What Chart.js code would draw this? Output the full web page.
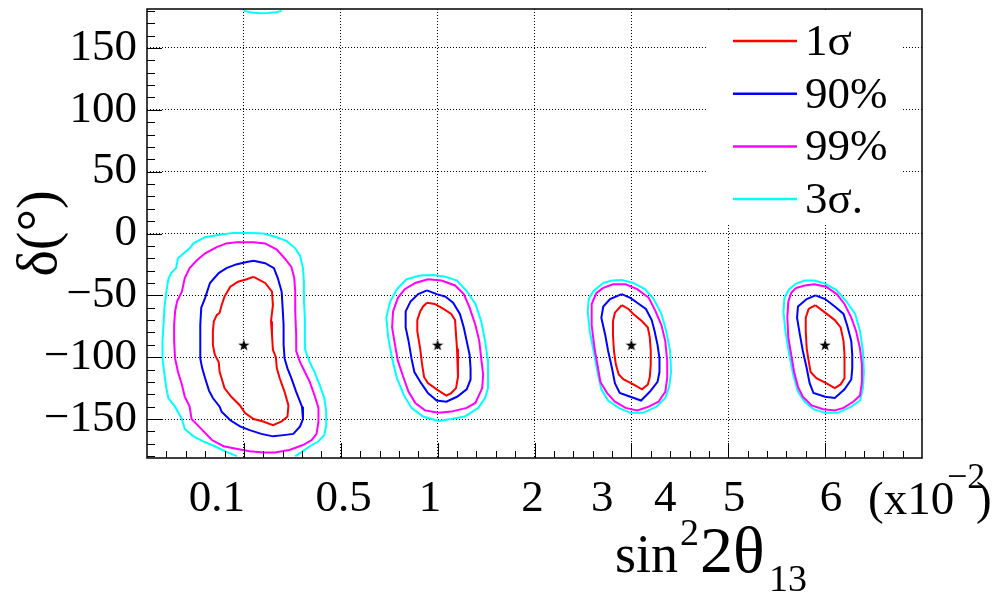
<!DOCTYPE html>
<html>
<head>
<meta charset="utf-8">
<script src="https://cdn.jsdelivr.net/npm/chart.js@4.4.0/dist/chart.umd.min.js"></script>
<style>
  html, body { margin: 0; padding: 0; background: #fff; }
</style>
</head>
<body>
<canvas id="graph" width="1007" height="594"></canvas>
<script>
// x axis runs 0..8, one unit per grid cell; labels are placed under it by hand in the original
var xTickLabels = ['0.1', '0.5', '1', '2', '3', '4', '5', '6'];
var xTickPos = [0.72, 2.03, 2.92, 3.98, 4.70, 5.35, 6.06, 7.06];
var yTicks = [-150, -100, -50, 0, 50, 100, 150];

var levelLabels = ['1σ', '90%', '99%', '3σ.'];
var levelColors = ['#ff0000', '#0000ff', '#ff00ff', '#00ffff'];

// best fit points
var bestX = [1, 3, 5, 7];
var bestY = [-90, -90, -90, -90];

// contours [x, delta] -- first panel
var sig1A = [[1.10,-35],[1.22,-40],[1.29,-47],[1.30,-58],[1.28,-71],[1.29,-82],[1.30,-94],[1.33,-100],[1.34,-109],[1.37,-117],[1.42,-128],[1.46,-139],[1.45,-148],[1.39,-152],[1.30,-155],[1.20,-152],[1.10,-150],[1.01,-145],[0.96,-139],[0.87,-132],[0.80,-125],[0.77,-117],[0.75,-112],[0.74,-104],[0.70,-98],[0.68,-90],[0.68,-79],[0.69,-71],[0.72,-66],[0.75,-64],[0.77,-58],[0.80,-51],[0.86,-43],[0.94,-39],[1.03,-37]];
var c90A = [[1.10,-22],[1.22,-24],[1.31,-28],[1.35,-36],[1.39,-47],[1.40,-60],[1.41,-74],[1.41,-90],[1.42,-101],[1.45,-109],[1.49,-117],[1.54,-128],[1.60,-140],[1.61,-150],[1.58,-156],[1.51,-162],[1.41,-163],[1.30,-164],[1.18,-162],[1.06,-159],[0.96,-156],[0.86,-151],[0.77,-144],[0.75,-140],[0.68,-133],[0.64,-127],[0.60,-117],[0.57,-109],[0.55,-101],[0.55,-90],[0.55,-74],[0.56,-60],[0.60,-52],[0.65,-40],[0.74,-32],[0.82,-28],[0.92,-25],[1.03,-23]];
var c99A = [[0.92,-7],[1.10,-7],[1.22,-8],[1.34,-13],[1.42,-20],[1.49,-27],[1.52,-36],[1.53,-47],[1.53,-63],[1.54,-82],[1.54,-95],[1.58,-104],[1.63,-112],[1.68,-120],[1.73,-131],[1.77,-141],[1.77,-152],[1.75,-162],[1.70,-167],[1.61,-171],[1.47,-175],[1.32,-177],[1.20,-177],[1.06,-176],[0.92,-174],[0.79,-172],[0.67,-167],[0.56,-158],[0.46,-150],[0.44,-140],[0.39,-132],[0.36,-122],[0.32,-112],[0.29,-101],[0.28,-87],[0.28,-74],[0.29,-63],[0.31,-55],[0.36,-47],[0.39,-36],[0.44,-28],[0.51,-22],[0.60,-16],[0.72,-11],[0.82,-8]];
var sig3A = [[0.93,-180],[0.82,-176.5],[0.70,-172],[0.58,-168],[0.48,-164],[0.39,-158],[0.36,-150],[0.29,-140],[0.22,-133],[0.20,-125],[0.18,-114],[0.16,-101],[0.16,-87],[0.17,-74],[0.18,-60],[0.20,-47],[0.22,-37],[0.25,-32],[0.30,-28],[0.32,-20],[0.38,-16],[0.44,-12],[0.48,-8],[0.60,-3],[0.75,-1],[0.89,0.5],[1.06,0.5],[1.20,0],[1.34,-3],[1.44,-6],[1.53,-12],[1.58,-18],[1.61,-28],[1.62,-39],[1.62,-55],[1.63,-68],[1.63,-82],[1.63,-93],[1.65,-98],[1.68,-104],[1.73,-112],[1.78,-122],[1.83,-133],[1.85,-144],[1.85,-155],[1.83,-163],[1.77,-168],[1.68,-172],[1.60,-176.5],[1.53,-180]];
var sig3Atop = [[1.00,180],[1.08,178.6],[1.17,178],[1.25,178.3],[1.33,178.8],[1.39,180]];

// second panel
var sig1B = [[2.89,-56],[2.97,-57],[3.06,-61],[3.14,-65],[3.18,-70],[3.19,-82],[3.20,-93],[3.21,-106],[3.21,-116],[3.19,-125],[3.14,-129],[3.09,-131],[2.99,-126],[2.90,-121],[2.86,-116],[2.84,-106],[2.82,-93],[2.79,-79],[2.79,-70],[2.82,-63],[2.85,-59]];
var c90B = [[2.89,-46],[2.99,-49],[3.08,-51],[3.16,-56],[3.23,-65],[3.27,-76],[3.30,-87],[3.33,-98],[3.34,-109],[3.34,-118],[3.30,-126],[3.20,-132],[3.09,-136],[2.99,-135],[2.90,-129],[2.83,-121],[2.76,-112],[2.73,-101],[2.70,-87],[2.67,-76],[2.67,-63],[2.72,-55],[2.80,-49]];
var c99B = [[2.90,-37],[3.04,-38],[3.18,-42],[3.27,-49],[3.33,-60],[3.39,-74],[3.43,-87],[3.45,-101],[3.47,-114],[3.46,-125],[3.39,-137],[3.30,-141],[3.14,-144],[3.01,-145],[2.87,-143],[2.77,-137],[2.70,-128],[2.65,-117],[2.59,-103],[2.56,-90],[2.53,-76],[2.54,-63],[2.59,-52],[2.66,-45],[2.77,-40]];
var sig3B = [[2.82,-34],[2.96,-33.5],[3.08,-35],[3.20,-38],[3.30,-46.5],[3.39,-57],[3.45,-71],[3.49,-87],[3.52,-103],[3.52,-114],[3.52,-125],[3.49,-133],[3.42,-141],[3.28,-148],[3.14,-150],[3.01,-151.5],[2.85,-148],[2.73,-141],[2.65,-130.5],[2.58,-117],[2.53,-101],[2.49,-84],[2.47,-68],[2.51,-55],[2.58,-45],[2.68,-37]];

// third panel
var sig1C = [[4.90,-58],[4.97,-61],[5.02,-65],[5.11,-71],[5.17,-76],[5.19,-84],[5.20,-95],[5.20,-106],[5.19,-116],[5.17,-122],[5.11,-126],[5.02,-122],[4.92,-118],[4.87,-114],[4.84,-106],[4.82,-95],[4.81,-82],[4.81,-71],[4.83,-64]];
var c90C = [[4.90,-49],[4.99,-52],[5.06,-56],[5.15,-61],[5.21,-70],[5.24,-79],[5.27,-90],[5.29,-101],[5.29,-112],[5.27,-120],[5.19,-128],[5.10,-135],[4.99,-132],[4.88,-129],[4.83,-121],[4.80,-109],[4.76,-95],[4.73,-82],[4.69,-68],[4.71,-59],[4.78,-53]];
var c99C = [[4.71,-44],[4.81,-41],[4.94,-41],[5.06,-45],[5.18,-52],[5.25,-63],[5.31,-74],[5.35,-87],[5.37,-103],[5.37,-117],[5.35,-128],[5.28,-136],[5.18,-140],[5.06,-143],[4.94,-141],[4.83,-136],[4.75,-129],[4.68,-120],[4.65,-106],[4.62,-93],[4.59,-74],[4.59,-57],[4.64,-48]];
var sig3C = [[4.71,-40],[4.80,-38],[4.90,-37.5],[5.02,-40],[5.14,-45],[5.23,-53],[5.31,-65],[5.36,-79],[5.40,-95],[5.41,-112],[5.39,-124],[5.35,-133],[5.26,-140],[5.12,-145],[4.99,-145],[4.87,-141],[4.76,-135],[4.69,-126],[4.65,-112],[4.61,-95],[4.57,-79],[4.55,-63],[4.56,-53],[4.61,-46.5]];

// fourth panel
var sig1D = [[6.90,-58],[7.00,-64],[7.10,-70],[7.16,-76],[7.19,-87],[7.20,-98],[7.20,-109],[7.20,-117],[7.16,-122],[7.10,-125],[7.01,-121],[6.91,-117],[6.85,-112],[6.83,-103],[6.81,-93],[6.80,-79],[6.80,-68],[6.83,-61]];
var c90D = [[6.90,-50],[7.00,-53],[7.10,-59],[7.19,-65],[7.23,-75],[7.27,-87],[7.28,-98],[7.28,-109],[7.27,-118],[7.20,-126],[7.10,-133],[7.00,-132],[6.88,-129],[6.84,-121],[6.81,-109],[6.77,-95],[6.74,-82],[6.71,-68],[6.72,-59],[6.81,-53]];
var c99D = [[6.70,-44],[6.79,-42],[6.89,-41],[7.01,-43],[7.12,-49],[7.20,-57],[7.27,-68],[7.32,-79],[7.36,-93],[7.38,-106],[7.38,-120],[7.36,-131],[7.29,-136],[7.19,-141],[7.10,-143],[6.98,-142],[6.86,-139],[6.77,-132],[6.72,-124],[6.68,-112],[6.65,-98],[6.62,-84],[6.61,-68],[6.62,-55],[6.65,-48]];
var sig3D = [[6.70,-40.5],[6.79,-38],[6.89,-38],[7.00,-40.5],[7.12,-46],[7.22,-55],[7.31,-65],[7.36,-79],[7.39,-95],[7.40,-112],[7.39,-125],[7.36,-135],[7.27,-140],[7.13,-145],[7.00,-145],[6.88,-142],[6.79,-136],[6.72,-128],[6.67,-114],[6.63,-98],[6.59,-79],[6.57,-63],[6.58,-52],[6.63,-45]];

// which contours go with which level, and whether they close on themselves
var levels = [
  [[sig1A, true], [sig1B, true], [sig1C, true], [sig1D, true]],
  [[c90A, true], [c90B, true], [c90C, true], [c90D, true]],
  [[c99A, true], [c99B, true], [c99C, true], [c99D, true]],
  [[sig3A, false], [sig3Atop, false], [sig3B, true], [sig3C, true], [sig3D, true]]
];

var serif = "'Liberation Serif', 'Times New Roman', Times, 'DejaVu Serif', serif";
Chart.defaults.color = '#000';
Chart.defaults.font.family = serif;

function fnt(size) { return size + 'px ' + serif; }

function toPoints(arr, closed) {
  var pts = arr.map(function (p) { return { x: p[0], y: p[1] }; });
  if (closed) pts.push({ x: arr[0][0], y: arr[0][1] });
  return pts;
}

// filled five point star for the best fit markers
var starImg = document.createElement('canvas');
starImg.width = 12;
starImg.height = 12;
(function () {
  var c = starImg.getContext('2d');
  c.beginPath();
  for (var i = 0; i < 10; i++) {
    var r = i % 2 === 0 ? 6 : 2.4;
    var a = -Math.PI / 2 + i * Math.PI / 5;
    c.lineTo(6 + r * Math.cos(a), 6.6 + r * Math.sin(a));
  }
  c.closePath();
  c.fillStyle = '#000';
  c.fill();
})();

var datasets = [];
levels.forEach(function (group, li) {
  group.forEach(function (c) {
    datasets.push({
      label: levelLabels[li],
      data: toPoints(c[0], c[1]),
      showLine: true,
      borderColor: levelColors[li],
      backgroundColor: levelColors[li],
      borderWidth: 2,
      pointRadius: 0,
      tension: 0
    });
  });
});
datasets.push({
  label: 'best fit',
  data: bestX.map(function (x, i) { return { x: x, y: bestY[i] }; }),
  pointStyle: starImg,
  pointRadius: 6,
  showLine: false
});

// frame, inside ticks, legend and the mixed-size titles (ROOT style)
var decorations = {
  id: 'decorations',
  afterDatasetsDraw: function (chart) {
    var ctx = chart.ctx, a = chart.chartArea;
    var xs = chart.scales.x, ys = chart.scales.y;
    ctx.save();

    // legend
    var lx = a.right - 214;
    ctx.fillStyle = '#fff';
    ctx.fillRect(lx, a.top + 1, 195, 213);
    ctx.font = fnt(45);
    ctx.textBaseline = 'middle';
    ctx.textAlign = 'left';
    levelLabels.forEach(function (lab, i) {
      var ly = a.top + 32 + i * 52.7;
      ctx.strokeStyle = levelColors[i];
      ctx.lineWidth = 2.5;
      ctx.beginPath();
      ctx.moveTo(lx + 25, ly);
      ctx.lineTo(lx + 89, ly);
      ctx.stroke();
      ctx.fillStyle = '#000';
      ctx.fillText(lab, lx + 97, ly + 2);
    });

    // ticks inside the frame
    ctx.strokeStyle = '#000';
    ctx.lineWidth = 1;
    ctx.beginPath();
    for (var v = -180; v <= 180; v += 10) {
      var py = Math.round(ys.getPixelForValue(v)) + 0.5;
      ctx.moveTo(a.left, py);
      ctx.lineTo(a.left + (v % 50 === 0 ? 15 : 8), py);
    }
    for (var i = 1; i < 40; i++) {
      var px = Math.round(xs.getPixelForValue(i * 0.2)) + 0.5;
      ctx.moveTo(px, a.bottom);
      ctx.lineTo(px, a.bottom - (i % 5 === 0 ? 15 : 7));
    }
    ctx.stroke();

    // frame
    ctx.lineWidth = 1.5;
    ctx.strokeRect(a.left, a.top, a.right - a.left, a.bottom - a.top);

    // exponent after the last label
    ctx.fillStyle = '#000';
    ctx.textBaseline = 'alphabetic';
    ctx.font = fnt(47);
    ctx.fillText('(x10', 868, 514);
    ctx.font = fnt(36);
    ctx.fillText('−2', 947, 488);
    ctx.font = fnt(47);
    ctx.fillText(')', 976, 514);

    // x axis title sin^2 2theta_13
    ctx.font = fnt(54);
    ctx.fillText('sin', 615, 572);
    ctx.font = fnt(38);
    ctx.fillText('2', 680, 545);
    ctx.font = fnt(66);
    ctx.fillText('2θ', 700, 572);
    ctx.font = fnt(38);
    ctx.fillText('13', 769, 591);

    ctx.restore();
  }
};

var config = {
  type: 'scatter',
  data: { datasets: datasets },
  options: {
    responsive: false,
    animation: false,
    layout: { padding: { left: 0, top: 9, right: 85, bottom: 0 } },
    plugins: {
      legend: { display: false },
      tooltip: { enabled: false }
    },
    scales: {
      x: {
        type: 'linear', min: 0, max: 8, position: 'bottom', weight: 0,
        afterBuildTicks: function (s) {
          s.ticks = [1, 2, 3, 4, 5, 6, 7].map(function (v) { return { value: v }; });
        },
        afterFit: function (s) { s.height = 0; s.paddingLeft = 0; s.paddingRight = 0; },
        ticks: { display: false },
        grid: { color: '#000', lineWidth: 1, drawTicks: false },
        border: { display: false, dash: [1, 2] }
      },
      xl: {
        type: 'linear', axis: 'x', min: 0, max: 8, position: 'bottom', weight: 1,
        afterBuildTicks: function (s) {
          s.ticks = xTickPos.map(function (v) { return { value: v }; });
        },
        afterFit: function (s) { s.height = 136; s.paddingLeft = 0; s.paddingRight = 0; },
        grid: { display: false, drawTicks: false },
        border: { display: false },
        ticks: {
          autoSkip: false, maxRotation: 0, padding: 14,
          font: { family: serif, size: 45 },
          callback: function (v, i) { return xTickLabels[i]; }
        }
      },
      y: {
        type: 'linear', min: -181.5, max: 181.5,
        afterBuildTicks: function (s) {
          s.ticks = yTicks.map(function (v) { return { value: v }; });
        },
        afterFit: function (s) { s.width = 147; s.paddingTop = 0; s.paddingBottom = 0; },
        ticks: {
          autoSkip: false, padding: 10,
          font: { family: serif, size: 45 },
          callback: function (v) { return v < 0 ? '−' + Math.abs(v) : '' + v; }
        },
        grid: { color: '#000', lineWidth: 1, drawTicks: false },
        border: { display: false, dash: [1, 2] },
        title: {
          display: true, text: 'δ(°)',
          font: { family: serif, size: 56 },
          padding: { top: 8, bottom: 0 }
        }
      }
    }
  },
  plugins: [decorations]
};

var myChart = new Chart(document.getElementById('graph'), config);

// redraw once the serif face is surely available
if (document.fonts && document.fonts.load) {
  document.fonts.load('44px "Liberation Serif"').then(function () { myChart.update(); });
}
</script>
</body>
</html>
